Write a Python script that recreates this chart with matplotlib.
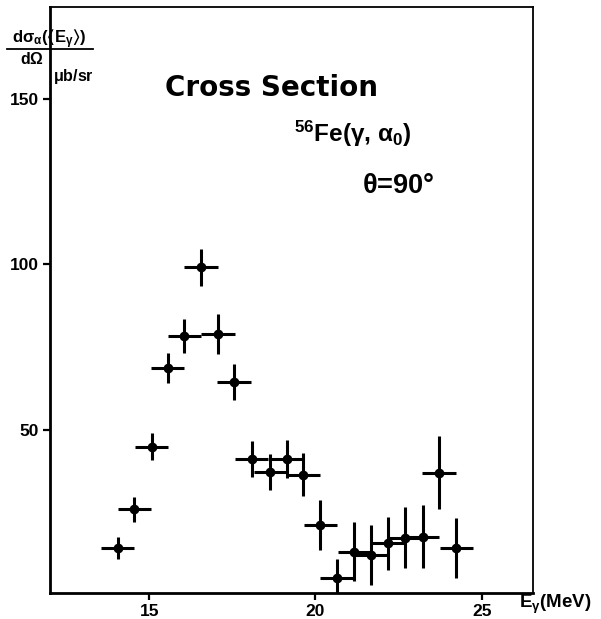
# -------------------------------------------------------------------------------------
# Library
import numpy as np
import matplotlib
matplotlib.use('Agg')
import matplotlib.pylab as plt
# -------------------------------------------------------------------------------------

# -------------------------------------------------------------------------------------
# Data
energy = [14.05, 14.55, 15.08, 15.56, 16.06, 16.56, 17.07, 17.55, 18.08, 18.64, 19.14,
          19.63, 20.15, 20.65, 21.17, 21.67, 22.17, 22.69, 23.22, 23.71, 24.23]
cross_section = [14.2, 25.9, 44.8, 68.6, 78.2, 99.0, 78.8, 64.4, 41.1, 37.1, 41.1,
                 36.4, 21.1, 5.1, 13.1, 12.1, 15.6, 17.3, 17.6, 36.9, 14.3]
energy_err = [0.5] * len(energy)
cross_section_err = [3.3, 3.7, 4.1, 4.6, 5.1, 5.7, 6.0, 5.5, 5.3, 5.5, 5.7,
                     6.4, 7.5, 5.7, 9.0, 9.0, 8.0, 9.2, 9.5, 11.0, 9.1]
x_ticks = [15, 20, 25]
y_ticks = [50, 100, 150]
# -------------------------------------------------------------------------------------

plt.rcParams['font.family'] = ['Liberation Sans', 'DejaVu Sans']
plt.rcParams['font.weight'] = 'bold'
plt.rcParams['mathtext.fontset'] = 'custom'
plt.rcParams['mathtext.rm'] = 'Liberation Sans:bold'
plt.rcParams['mathtext.it'] = 'Liberation Sans:italic:bold'
plt.rcParams['mathtext.bf'] = 'Liberation Sans:bold'
plt.rcParams['mathtext.default'] = 'regular'

fig = plt.figure(figsize=(6.01, 6.19), dpi=100)
ax = fig.add_axes([0.0832, 0.042, 0.8037, 0.9467])

ax.errorbar(energy, cross_section, xerr=energy_err, yerr=cross_section_err,
            fmt='o', color='black', markersize=6, elinewidth=2.2, capsize=0)

ax.set_xlim(12.02, 26.54)
ax.set_ylim(0.6, 177.7)
ax.set_xticks(x_ticks)
ax.set_yticks(y_ticks)
ax.tick_params(direction='out', length=5, width=1.6, labelsize=12.5, pad=3)
for lab in ax.get_xticklabels() + ax.get_yticklabels():
    lab.set_fontweight('bold')

for side in ['left', 'bottom']:
    ax.spines[side].set_linewidth(2.0)
for side in ['top', 'right']:
    ax.spines[side].set_linewidth(1.3)

# Annotations
fig.text(165 / 601, 1 - 88 / 619, 'Cross Section', fontsize=20, fontweight='bold',
         va='center', ha='left', family='DejaVu Sans')
fig.text(294 / 601, 1 - 134 / 619, r'$^{56}$Fe($\gamma$, $\alpha_0$)', fontsize=17.5,
         fontweight='bold', va='center', ha='left')
fig.text(362 / 601, 1 - 186 / 619, r'$\theta$=90°', fontsize=19.5, fontweight='bold',
         va='center', ha='left')

# y axis label as a fraction
fig.text(49 / 601, 1 - 39 / 619, r'd$\sigma_{\alpha}$($\langle$E$_{\gamma}$$\rangle$)',
         fontsize=12, fontweight='bold', va='center', ha='center')
fig.add_artist(plt.Line2D([7 / 601, 93 / 601], [1 - 49 / 619, 1 - 49 / 619],
                          color='black', linewidth=1.3))
fig.text(32 / 601, 1 - 59.5 / 619, r'd$\Omega$', fontsize=11.5, fontweight='bold',
         va='center', ha='center')
fig.text(53 / 601, 1 - 77 / 619, r'$\mu$b/sr', fontsize=11.5, fontweight='bold',
         va='center', ha='left')

# x axis label
fig.text(519 / 601, 1 - 604 / 619, r'E$_{\gamma}$(MeV)', fontsize=13.5, fontweight='bold',
         va='center', ha='left')

fig.savefig('out.png', dpi=100)
